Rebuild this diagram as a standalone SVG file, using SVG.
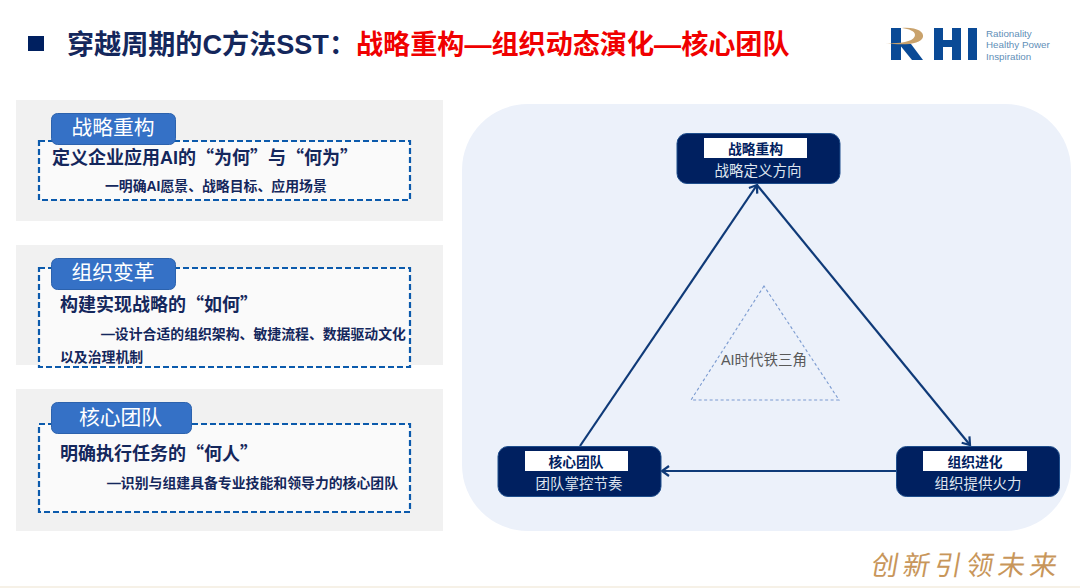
<svg xmlns="http://www.w3.org/2000/svg" width="1080" height="588" viewBox="0 0 1080 588">
<style>
text{font-family:"Liberation Sans","Noto Sans CJK SC",sans-serif}
.q{font-family:"Noto Sans CJK SC",sans-serif}
.panel{fill:#f1f1f1}
.dash{fill:#fafafa;stroke:#0b5aac;stroke-width:2.2;stroke-dasharray:6 3}
.tab{fill:#3571c6;stroke:#2c62ad;stroke-width:1}
.tabt{fill:#fff;font-size:20.8px;text-anchor:middle}
.h{fill:#14275c;font-size:18px;font-weight:700}
.s{fill:#14275c;font-size:13.870px;font-weight:700}
.node{fill:#002060;stroke:#1f4e8c;stroke-width:1}
.lab{fill:#fff}
.labt{fill:#002060;font-size:13.8px;font-weight:700;text-anchor:middle}
.subt{fill:#dfe5ef;font-size:14.5px;text-anchor:middle}
.conn{fill:none;stroke:#0f3a78;stroke-width:2.2;marker-end:url(#a)}
.logo{fill:#5f8fb8;font-size:9.800px}
.lg{fill:#0a4a96}
</style>
<defs>
<marker id="a" markerUnits="userSpaceOnUse" markerWidth="14" markerHeight="14" refX="10" refY="7" orient="auto">
<path d="M3 2L10 7L3 12" fill="none" stroke="#0f3a78" stroke-width="2.2"/>
</marker>
</defs>
<rect width="1080" height="588" fill="#fff"/>
<rect y="586" width="1080" height="2" fill="#f6f1e7"/>
<g id="title">
<rect x="28" y="36" width="16" height="15" fill="#002060"/>
<text x="67" y="54" font-size="27.100" font-weight="700" fill="#14275c">穿越周期的C方法SST：<tspan fill="#f00000">战略重构—组织动态演化—核心团队</tspan></text>
</g>
<g id="logo">
<rect class="lg" x="891" y="28" width="10" height="32"/>
<path class="lg" d="M899 44L911 44L923 60L912 60Z"/>
<rect class="lg" x="934" y="28" width="9" height="32"/>
<rect class="lg" x="952" y="28" width="9" height="32"/>
<rect class="lg" x="943" y="40" width="9" height="7"/>
<rect class="lg" x="968" y="28" width="9" height="32"/>
<path d="M902 28C917 27 924 32 923 37C921 44 905 46 885 43C902 44 915 41 915 35C915 31 909 29 902 28Z" fill="#c9a26c"/>
<text class="logo" x="986" y="37">Rationality</text>
<text class="logo" x="986" y="48">Healthy Power</text>
<text class="logo" x="986" y="60">Inspiration</text>
</g>
<g id="card1">
<rect class="panel" x="16" y="100" width="427" height="121"/>
<rect class="dash" x="39" y="141" width="371" height="59"/>
<rect class="tab" x="51.500" y="113.500" width="124" height="31" rx="6"/>
<text class="tabt" x="113" y="135">战略重构</text>
<text class="h" x="52" y="164">定义企业应用AI的<tspan class="q">“</tspan>为何<tspan class="q">”</tspan>与<tspan class="q">“</tspan>何为<tspan class="q">”</tspan></text>
<text class="s" x="105" y="191">一明确AI愿景、战略目标、应用场景</text>
</g>
<g id="card2">
<rect class="panel" x="16" y="245" width="427" height="120"/>
<rect class="dash" x="39" y="268" width="371" height="99"/>
<rect class="tab" x="51.500" y="258.500" width="124" height="31" rx="6"/>
<text class="tabt" x="113" y="279.500">组织变革</text>
<text class="h" x="60" y="311">构建实现战略的<tspan class="q">“</tspan>如何<tspan class="q">”</tspan></text>
<text class="s" x="101" y="339">—设计合适的组织架构、敏捷流程、数据驱动文化</text>
<text class="s" x="60" y="362">以及治理机制</text>
</g>
<g id="card3">
<rect class="panel" x="16" y="389" width="427" height="142"/>
<rect class="dash" x="39" y="424" width="371" height="88"/>
<rect class="tab" x="51.500" y="402.500" width="140" height="31" rx="6"/>
<text class="tabt" x="120.500" y="424.500">核心团队</text>
<text class="h" x="60" y="460">明确执行任务的<tspan class="q">“</tspan>何人<tspan class="q">”</tspan></text>
<text class="s" x="107" y="488">—识别与组建具备专业技能和领导力的核心团队</text>
</g>
<rect id="bg" x="462" y="104" width="609" height="427" rx="66" fill="#ecf1fa"/>
<g id="connectors">
<path class="conn" d="M580 446L757 185"/>
<path class="conn" d="M757 185L970 445"/>
<path class="conn" d="M896 471L662 471"/>
</g>
<g id="center">
<path d="M764 286L691 400H839Z" fill="none" stroke="#7a9ad0" stroke-width="1.100" stroke-dasharray="3 2.500"/>
<text x="764" y="365" font-size="14.500" fill="#595959" text-anchor="middle">AI时代铁三角</text>
</g>
<g id="node-top">
<rect class="node" x="677" y="133.500" width="163" height="50" rx="10"/>
<rect class="lab" x="704" y="138" width="103" height="20"/>
<text class="labt" x="755.500" y="153.500">战略重构</text>
<text class="subt" x="758" y="176">战略定义方向</text>
</g>
<g id="node-left">
<rect class="node" x="498" y="446.500" width="163" height="50" rx="10"/>
<rect class="lab" x="525" y="451" width="103" height="20"/>
<text class="labt" x="576" y="466.500">核心团队</text>
<text class="subt" x="579" y="489">团队掌控节奏</text>
</g>
<g id="node-right">
<rect class="node" x="896.500" y="446.500" width="163" height="50" rx="10"/>
<rect class="lab" x="923" y="451" width="104" height="20"/>
<text class="labt" x="975" y="466.500">组织进化</text>
<text class="subt" x="978" y="489">组织提供火力</text>
</g>
<g id="slogan">
<text x="0" y="0" font-size="27" letter-spacing="4.700" fill="#c8965a" style="font-weight:400;font-family:'Noto Sans CJK SC',sans-serif" transform="translate(870 575) skewX(-10)">创新引领未来</text>
</g>
</svg>
